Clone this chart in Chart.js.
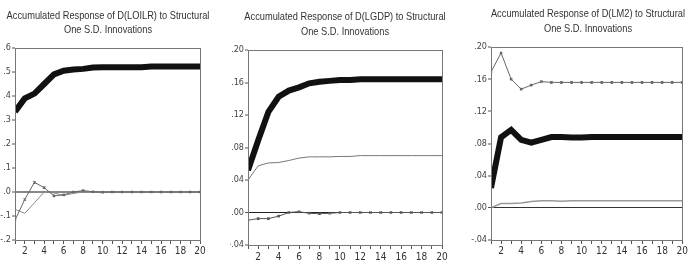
<!DOCTYPE html>
<html>
<head>
<meta charset="utf-8">
<script src="https://cdn.jsdelivr.net/npm/chart.js@4/dist/chart.umd.min.js"></script>
<style>
  body { margin: 0; background: #fff; }
  #wrap { position: relative; width: 689px; height: 263px; overflow: hidden; }
  canvas { position: absolute; top: 0; }
  .ttl {
    position: absolute;
    font-family: 'Liberation Sans', Arial, sans-serif;
    font-size: 11.3px;
    color: #333;
    text-align: center;
    white-space: nowrap;
    transform: translateX(-50%) scaleX(0.82);
  }
</style>
</head>
<body>
<div id="wrap">
  <canvas id="c1" width="216" height="263" style="left:0px"></canvas>
  <canvas id="c2" width="230" height="263" style="left:230px"></canvas>
  <canvas id="c3" width="223" height="263" style="left:466px"></canvas>
  <div class="ttl" id="t1" style="left:108px; top:8px; line-height:14px"></div>
  <div class="ttl" id="t2" style="left:345px; top:8.5px; line-height:15.5px"></div>
  <div class="ttl" id="t3" style="left:588px; top:5.5px; line-height:15px"></div>
</div>
<script>
const periods = [1,2,3,4,5,6,7,8,9,10,11,12,13,14,15,16,17,18,19,20]

// D(LOILR)
const loilrThick = [0.335,0.39,0.41,0.45,0.49,0.505,0.51,0.513,0.519,0.52,0.52,0.52,0.52,0.52,0.523,0.523,0.523,0.523,0.523,0.523]
const loilrMarked = [-0.118,-0.031,0.04,0.018,-0.016,-0.012,0.0,0.006,0.001,-0.001,0,0,0,0,0,0,0,0,0,0]
const loilrThin = [-0.072,-0.089,-0.045,0.0,-0.004,-0.014,-0.006,0.0,0,0,0,0,0,0,0,0,0,0,0,0]

// D(LGDP)
const lgdpThick = [0.052,0.089,0.124,0.1425,0.15,0.154,0.159,0.161,0.162,0.163,0.163,0.164,0.164,0.164,0.164,0.164,0.164,0.164,0.164,0.164]
const lgdpThin = [0.040,0.0575,0.061,0.0615,0.064,0.067,0.0685,0.0685,0.0685,0.069,0.069,0.07,0.07,0.07,0.07,0.07,0.07,0.07,0.07,0.07]
const lgdpMarked = [-0.0095,-0.0075,-0.0075,-0.0045,0.0,0.001,-0.001,-0.0015,-0.001,0,0,0,0,0,0,0,0,0,0,0]

// D(LM2)
const lm2Marked = [0.169,0.1926,0.16,0.1476,0.1526,0.157,0.156,0.156,0.156,0.156,0.156,0.156,0.156,0.156,0.156,0.156,0.156,0.156,0.156,0.156]
const lm2Thick = [0.0247,0.0878,0.097,0.0845,0.081,0.0845,0.088,0.088,0.0875,0.0875,0.088,0.088,0.088,0.088,0.088,0.088,0.088,0.088,0.088,0.088]
const lm2Thin = [0.0,0.0054,0.0054,0.006,0.008,0.0087,0.0087,0.0082,0.0087,0.0087,0.0087,0.0087,0.0087,0.0087,0.0087,0.0087,0.0087,0.0087,0.0087,0.0087]

const titles = [
  ['Accumulated Response of D(LOILR) to Structural', 'One S.D. Innovations'],
  ['Accumulated Response of D(LGDP) to Structural', 'One S.D. Innovations'],
  ['Accumulated Response of D(LM2) to Structural', 'One S.D. Innovations']
]

const FONT = "'DejaVu Sans Condensed', 'Liberation Sans', sans-serif"

// titles as page text (canvas would squeeze them into the plot width)
titles.forEach((t, i) => {
  const el = document.getElementById('t' + (i + 1))
  el.innerHTML = t.join('<br>')
})

const pts = (arr) => arr.map((v, i) => ({x: periods[i], y: v}))

const thick = (arr) => ({data: pts(arr), borderColor: '#111', borderWidth: 6, pointRadius: 0})
const thin = (arr, color, w) => ({data: pts(arr), borderColor: color, borderWidth: w, pointRadius: 0})
const marked = (arr, color) => ({data: pts(arr), borderColor: color, borderWidth: 1, pointRadius: 1.6,
  pointStyle: 'crossRot', pointBorderColor: color, pointBorderWidth: 1.2})

// box round the plot area
const frame = {
  id: 'frame',
  afterDatasetsDraw(chart) {
    const a = chart.chartArea
    const ctx = chart.ctx
    ctx.save()
    ctx.strokeStyle = '#777'
    ctx.lineWidth = 1
    ctx.strokeRect(Math.round(a.left) + 0.5, Math.round(a.top) + 0.5, Math.round(a.right - a.left), Math.round(a.bottom - a.top))
    ctx.restore()
  }
}

function fmt(v, dec) {
  let s = Number(v).toFixed(dec)
  return s.replace(/^(-?)0\./, '$1.')
}

function makeChart(id, o) {
  new Chart(document.getElementById(id), {
    type: 'line',
    data: {datasets: o.datasets},
    plugins: [frame],
    options: {
      responsive: false,
      animation: false,
      devicePixelRatio: 1,
      layout: {padding: {left: 0, right: o.padRight, top: o.top, bottom: 0}},
      plugins: {
        legend: {display: false},
        tooltip: {enabled: false},
        title: {display: false}
      },
      scales: {
        x: {
          type: 'linear',
          min: 1, max: 20,
          afterFit: (s) => { s.height = o.xHeight },
          border: {display: true, color: '#777'},
          grid: {drawOnChartArea: false, drawTicks: true, tickLength: 4, tickColor: '#555'},
          ticks: {
            stepSize: 1, autoSkip: false, maxRotation: 0, padding: o.xPad,
            color: '#333', font: {family: FONT, size: 10},
            callback: (v) => (v % 2 === 0 ? String(v) : '')
          }
        },
        y: {
          min: o.min, max: o.max,
          afterFit: (s) => { s.width = o.yWidth },
          border: {display: true, color: '#777'},
          grid: {
            drawTicks: true, tickLength: 3, tickColor: '#555', tickWidth: 1,
            color: (c) => (Math.abs(c.tick.value) < 1e-9 ? o.zeroColor : 'rgba(0,0,0,0)'),
            lineWidth: (c) => (Math.abs(c.tick.value) < 1e-9 ? o.zeroWidth : 0)
          },
          ticks: {
            stepSize: o.step, padding: 1,
            color: '#444', font: {family: FONT, size: 9},
            callback: (v) => fmt(v, o.dec)
          }
        }
      },
      elements: {line: {tension: 0}}
    }
  })
}

makeChart('c1', {
  top: 48,
  min: -0.2, max: 0.6, step: 0.1, dec: 1,
  yWidth: 15, padRight: 16, xHeight: 23, xPad: 1,
  zeroColor: '#888', zeroWidth: 2,
  datasets: [thick(loilrThick), marked(loilrMarked, '#666'), thin(loilrThin, '#888', 1)]
})

makeChart('c2', {
  top: 50,
  min: -0.04, max: 0.20, step: 0.04, dec: 2,
  yWidth: 18, padRight: 18, xHeight: 18, xPad: 2,
  zeroColor: '#222', zeroWidth: 1,
  datasets: [thick(lgdpThick), thin(lgdpThin, '#777', 1), marked(lgdpMarked, '#555')]
})

makeChart('c3', {
  top: 47,
  min: -0.04, max: 0.20, step: 0.04, dec: 2,
  yWidth: 25, padRight: 5, xHeight: 23, xPad: 1,
  zeroColor: '#333', zeroWidth: 1,
  datasets: [marked(lm2Marked, '#666'), thick(lm2Thick), thin(lm2Thin, '#999', 1.5)]
})
</script>
</body>
</html>
